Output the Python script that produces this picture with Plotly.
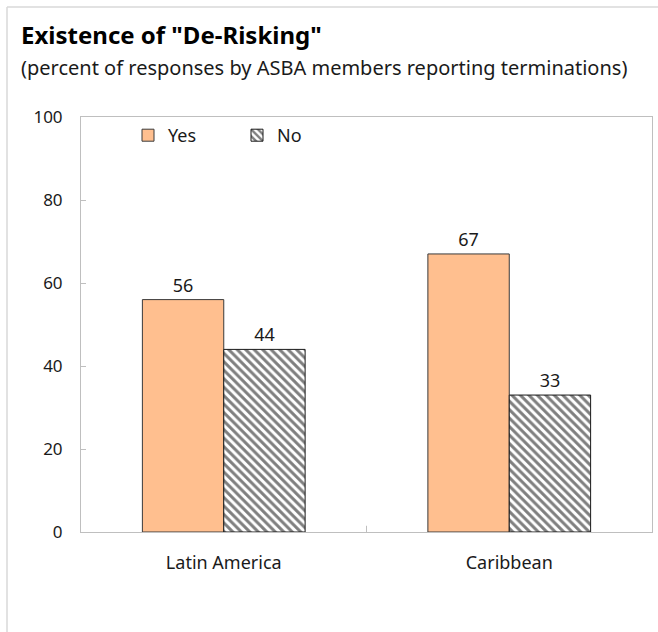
import plotly.graph_objects as go

# Chart data
regions = ["Latin America", "Caribbean"]
yes_values = [56, 67]
no_values = [44, 33]
y_ticks = [0, 20, 40, 60, 80, 100]

title_text = 'Existence of "De-Risking"'
subtitle_text = "(percent of responses by ASBA members reporting terminations)"

FONT = "Noto Sans"
TEXT_COLOR = "#1a1a1a"
W, H = 658, 632
M_L, M_R, M_T, M_B = 81, 6, 117, 100
PW = W - M_L - M_R
PH = H - M_T - M_B


def px_x(x):
    """Horizontal pixel position -> paper coordinate."""
    return (x - M_L) / PW


def px_y(y):
    """Vertical pixel position (from top) -> paper coordinate."""
    return (H - M_B - y) / PH


fig = go.Figure()

fig.add_trace(go.Bar(
    name="Yes",
    x=regions,
    y=yes_values,
    text=[str(v) for v in yes_values],
    textposition="outside",
    textfont=dict(family=FONT, size=18, color=TEXT_COLOR),
    marker=dict(color="#FFBF8F", line=dict(color="#3a3a3a", width=1)),
    cliponaxis=False,
))

fig.add_trace(go.Bar(
    name="No",
    x=regions,
    y=no_values,
    text=[str(v) for v in no_values],
    textposition="outside",
    textfont=dict(family=FONT, size=18, color=TEXT_COLOR),
    marker=dict(
        color="white",
        line=dict(color="#1a1a1a", width=1),
        pattern=dict(shape="\\", fgcolor="black", bgcolor="white",
                     size=6, solidity=0.5),
    ),
    cliponaxis=False,
))

fig.update_layout(
    width=W, height=H, autosize=False,
    margin=dict(l=M_L, r=M_R, t=M_T, b=M_B, pad=0),
    paper_bgcolor="white",
    plot_bgcolor="white",
    barmode="group",
    bargap=0.43,
    bargroupgap=0,
    font=dict(family=FONT, size=18, color=TEXT_COLOR),
    showlegend=True,
    legend=dict(
        orientation="h",
        x=px_x(128), xanchor="left",
        y=1.0, yanchor="top",
        bgcolor="rgba(0,0,0,0)",
        font=dict(family=FONT, size=18, color=TEXT_COLOR),
        itemwidth=30,
        entrywidth=64, entrywidthmode="pixels",
        traceorder="normal",
    ),
    xaxis=dict(
        showline=True, linecolor="#bfbfbf", linewidth=1, mirror=True,
        ticks="", showgrid=False,
        tickfont=dict(family=FONT, size=18, color=TEXT_COLOR),
        ticklabelstandoff=14,
    ),
    yaxis=dict(
        range=[0, 100],
        tickvals=y_ticks,
        showline=True, linecolor="#bfbfbf", linewidth=1, mirror=True,
        ticks="inside", ticklen=5, tickcolor="#bfbfbf",
        showgrid=False, zeroline=False,
        tickfont=dict(family=FONT, size=17, color=TEXT_COLOR),
        ticklabelstandoff=14,
    ),
)

# Divider tick between the two category groups on the x axis
fig.add_shape(type="line", xref="x", yref="paper",
              x0=0.5, x1=0.5, y0=0, y1=0.015,
              line=dict(color="#bfbfbf", width=1))

# Outer frame around the figure (top and left edges)
fig.add_shape(type="line", xref="paper", yref="paper",
              x0=px_x(7), x1=px_x(W + 5), y0=px_y(7), y1=px_y(7),
              line=dict(color="#d9d9d9", width=1.5))
fig.add_shape(type="line", xref="paper", yref="paper",
              x0=px_x(7), x1=px_x(7), y0=px_y(H + 5), y1=px_y(7),
              line=dict(color="#d9d9d9", width=1.5))

# Title and subtitle
fig.add_annotation(
    text=f"<b>{title_text}</b>", xref="paper", yref="paper",
    x=px_x(19), y=px_y(35),
    xanchor="left", yanchor="middle", showarrow=False,
    font=dict(family=FONT, size=24, color="black"),
)
fig.add_annotation(
    text=subtitle_text, xref="paper", yref="paper",
    x=px_x(19), y=px_y(68),
    xanchor="left", yanchor="middle", showarrow=False,
    font=dict(family=FONT, size=20, color=TEXT_COLOR),
)

fig.write_html("out.html")
